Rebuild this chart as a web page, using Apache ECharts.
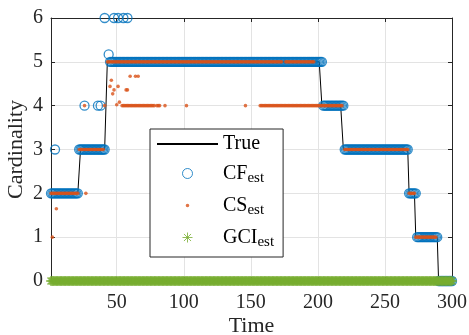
<!DOCTYPE html>
<html>
<head>
<meta charset="utf-8">
<script src="https://cdn.jsdelivr.net/npm/echarts@6/dist/echarts.min.js"></script>
<style>
  html, body { margin: 0; padding: 0; background: #fff; }
  #chart { width: 469px; height: 335px; }
</style>
</head>
<body>
<div id="chart"></div>
<script>
// Runs are [first time, last time, value]; points are [time, value].
const trueRuns = [[1, 22, 2], [23, 42, 3], [43, 202, 5], [203, 218, 4], [219, 267, 3], [268, 272, 2], [273, 289, 1], [290, 300, 0]];

const cfRuns = [[1, 21, 2], [22, 41, 3], [45, 203, 5], [204, 219, 4], [220, 267, 3], [268, 273, 2], [274, 289, 1], [290, 300, 0]];
const cfPoints = [[4, 3], [26, 4], [36, 4], [38, 4], [41, 6], [44, 5.17], [48, 6], [51, 6], [55, 6], [58, 6]];

const csRuns = [[1, 21, 2], [22, 40, 3], [43, 173, 5], [176, 197, 5], [54, 78, 4], [80, 82, 4], [157, 218, 4], [220, 267, 3], [268, 272, 2], [273, 288, 1], [289, 300, 0]];
const csPoints = [[2, 1], [5, 1.65], [26, 4], [27, 2], [41, 4], [45, 4.44], [46, 4.58], [47, 4.27], [48, 4.36], [50, 4.02], [51, 4.44], [52, 4.08], [57, 4.36], [58, 4.36], [60, 4.67], [64, 4.67], [66, 4.67], [86, 4], [102, 4], [146, 4]];

const gciRuns = [[1, 300, 0]];

const xTicks = [50, 100, 150, 200, 250, 300];

const FONT = 'Liberation Serif';
const AX = '#262626';
const GRID = '#e3e3e3';
const BLUE = '#0072BD';
const RED = '#D95319';
const GREEN = '#77AC30';
const CLEAR = 'rgba(0,0,0,0)';
const ASTERISK = 'path://M5,0L5,10M0,5L10,5M1.46,1.46L8.54,8.54M1.46,8.54L8.54,1.46';
const DOT_ICON = 'path://M0,0L0.01,0M10,10L9.99,10M5,3.2A1.8,1.8,0,1,1,5,6.8A1.8,1.8,0,1,1,5,3.2Z';

function expandRuns(runs) {
  const out = [];
  runs.forEach(([a, b, v]) => { for (let t = a; t <= b; t++) out.push([t, v]); });
  return out;
}

const trueData = expandRuns(trueRuns);
const cfData = expandRuns(cfRuns).concat(cfPoints);
const csData = expandRuns(csRuns).concat(csPoints);
const gciData = expandRuns(gciRuns);

const labelText = { fontFamily: FONT, fontSize: 20, color: AX };

const chart = echarts.init(document.getElementById('chart'), null, { renderer: 'canvas' });
chart.setOption({
  animation: false,
  backgroundColor: '#fff',
  grid: { left: 51, right: 17, top: 18, bottom: 54, containLabel: false, outerBoundsMode: 'none' },
  xAxis: [{
    type: 'value', min: 1, max: 300, position: 'bottom',
    name: 'Time', nameLocation: 'middle', nameGap: 34, nameMoveOverlap: false,
    nameTextStyle: { fontFamily: FONT, fontSize: 22, color: AX },
    axisLine: { show: true, onZero: false, lineStyle: { color: AX, width: 1 } },
    axisTick: { show: true, inside: true, length: 4, customValues: xTicks, lineStyle: { color: AX } },
    axisLabel: Object.assign({ customValues: xTicks, margin: 12 }, labelText),
    splitLine: { show: true, lineStyle: { color: GRID, width: 1 } }
  }, {
    type: 'value', min: 1, max: 300, position: 'top',
    axisLine: { show: true, onZero: false, lineStyle: { color: AX, width: 1 } },
    axisTick: { show: true, inside: true, length: 4, customValues: xTicks, lineStyle: { color: AX } },
    axisLabel: { show: false },
    splitLine: { show: false }
  }],
  yAxis: [{
    type: 'value', min: 0, max: 6, interval: 1, position: 'left',
    name: 'Cardinality', nameLocation: 'middle', nameGap: 24, nameRotate: 90, nameMoveOverlap: false,
    nameTextStyle: { fontFamily: FONT, fontSize: 22, color: AX },
    axisLine: { show: true, onZero: false, lineStyle: { color: AX, width: 1 } },
    axisTick: { show: true, inside: true, length: 4, lineStyle: { color: AX } },
    axisLabel: Object.assign({ margin: 8 }, labelText),
    splitLine: { show: true, lineStyle: { color: GRID, width: 1 } }
  }, {
    type: 'value', min: 0, max: 6, interval: 1, position: 'right',
    axisLine: { show: true, onZero: false, lineStyle: { color: AX, width: 1 } },
    axisTick: { show: true, inside: true, length: 4, lineStyle: { color: AX } },
    axisLabel: { show: false },
    splitLine: { show: false }
  }],
  legend: {
    orient: 'vertical', left: 150, top: 129, z: 10,
    padding: [5, 9, 7, 6], itemGap: 7,
    itemWidth: 61, itemHeight: 10,
    backgroundColor: '#fff', borderColor: AX, borderWidth: 1, borderRadius: 0,
    selectedMode: false, symbolKeepAspect: true,
    textStyle: {
      fontFamily: FONT, fontSize: 20, color: '#000',
      rich: {
        a: { fontFamily: FONT, fontSize: 20, lineHeight: 20, verticalAlign: 'top', color: '#000' },
        s: { fontFamily: FONT, fontSize: 15, lineHeight: 15, padding: [10, 0, 0, 0], color: '#000' }
      }
    },
    formatter: name => name === 'True' ? '{a|True}' : '{a|' + name + '}{s|est}',
    data: [
      { name: 'True', itemStyle: { color: CLEAR, borderWidth: 0 } },
      { name: 'CF', icon: 'circle', itemStyle: { borderWidth: 1 } },
      { name: 'CS', icon: DOT_ICON, itemStyle: { borderWidth: 0 } },
      { name: 'GCI', icon: ASTERISK, itemStyle: { borderWidth: 1 } }
    ]
  },
  series: [{
    name: 'True', type: 'line', data: trueData, symbol: 'none', clip: false, z: 1,
    lineStyle: { color: '#000', width: 1 }, itemStyle: { color: '#000' },
    emphasis: { disabled: true }, silent: true
  }, {
    name: 'CF', type: 'scatter', data: cfData, symbol: 'circle', symbolSize: 9, clip: false, z: 2,
    itemStyle: { color: CLEAR, borderColor: BLUE, borderWidth: 1.3 },
    emphasis: { disabled: true }, silent: true
  }, {
    name: 'CS', type: 'scatter', data: csData, symbol: 'circle', symbolSize: 3.6, clip: false, z: 3,
    itemStyle: { color: RED },
    emphasis: { disabled: true }, silent: true
  }, {
    name: 'GCI', type: 'scatter', data: gciData, symbol: ASTERISK, symbolSize: 10, clip: false, z: 4,
    itemStyle: { color: CLEAR, borderColor: GREEN, borderWidth: 1.5 },
    emphasis: { disabled: true }, silent: true
  }]
});
</script>
</body>
</html>
